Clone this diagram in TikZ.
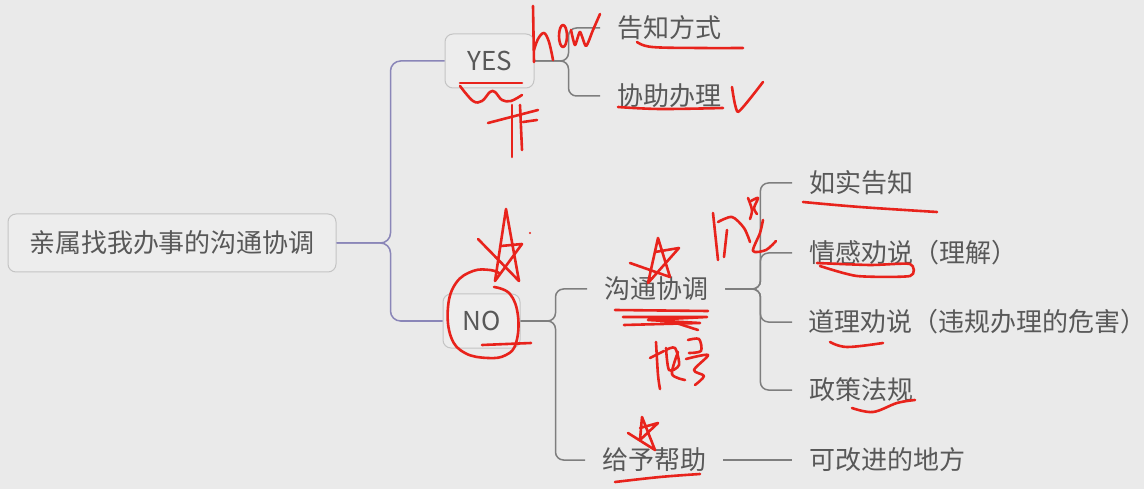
\documentclass[tikz,border=0pt]{standalone}
\usepackage{fontspec}
\setmainfont{Noto Sans CJK SC}
\definecolor{bg}{HTML}{EAEAEA}
\definecolor{boxfill}{HTML}{EDEDED}
\definecolor{boxline}{HTML}{C4C4C4}
\definecolor{txt}{HTML}{585858}
\definecolor{lav}{HTML}{8A86B8}
\definecolor{branch}{HTML}{7E7E7E}
\definecolor{pen}{HTML}{E8231C}
\tikzset{
  every node/.style={font=\fontsize{26}{30}\selectfont, text=txt},
  topicbox/.style={draw=boxline, line width=1pt, fill=boxfill, rounded corners=8pt, inner sep=0pt},
  leaf/.style={anchor=west, inner xsep=17pt, inner ysep=0pt},
  mainline/.style={draw=lav, line width=1.5pt, rounded corners=10pt},
  subline/.style={draw=branch, line width=1.5pt, rounded corners=8pt},
  ann/.style={draw=pen, line width=2.6pt, line cap=round, line join=round},
}
\begin{document}
\begin{tikzpicture}[x=1pt, y=-1pt]
\fill[bg] (0,0) rectangle (1144,489);
\useasboundingbox (0,0) rectangle (1144,489);

% --- topics
\node[topicbox, minimum width=328pt, minimum height=58pt] (root) at (172,243) {亲属找我办事的沟通协调};
\node[topicbox, minimum width=89pt, minimum height=54pt] (yes) at (489.5,61) {YES};
\node[topicbox, minimum width=77pt, minimum height=54pt] (no) at (481.5,321) {NO};

% --- leaves
\node[leaf] (tell) at (600,28) {告知方式};
\node[leaf] (assist) at (600,96) {协助办理};
\node[leaf] (comm) at (587,289) {沟通协调};
\node[leaf] (help) at (585,460) {给予帮助};
\node[leaf] (truth) at (792,183) {如实告知};
\node[leaf] (emot) at (792,253) {情感劝说（理解）};
\node[leaf, inner xsep=0pt] (reason) at (808,322) {道理劝说（违规办理的危害）};
\node[leaf] (policy) at (792,390) {政策法规};
\node[leaf] (improve) at (792,460) {可改进的地方};

% --- connectors
\draw[mainline] (root.east) -- ++(54,0) |- (yes.west);
\draw[mainline] (root.east) -- ++(54,0) |- (no.west);
\draw[subline] (yes.east) -- ++(34,0) |- (tell.west);
\draw[subline] (yes.east) -- ++(34,0) |- (assist.west);
\draw[subline] (no.east) -- ++(35,0) |- (comm.west);
\draw[subline] (no.east) -- ++(35,0) |- (help.west);
\draw[subline] (comm.east) -- ++(35,0) |- (truth.west);
\draw[subline] (comm.east) -- ++(35,0) |- (emot.west);
\draw[subline] (comm.east) -- ++(35,0) |- ([xshift=-16pt]reason.west);
\draw[subline] (comm.east) -- ++(35,0) |- (policy.west);
\draw[subline] (help.east) -- (improve.west);

% --- red handwriting
% "how"
\draw[ann] (533,6) -- (534,62);
\draw[ann] plot[smooth, tension=0.6] coordinates {(534,50) (538,39) (544,33) (549,42) (553,60)};
\draw[ann] (563,36) ellipse [x radius=4, y radius=11];
\draw[ann] plot[smooth, tension=0.4] coordinates {(571,30) (575,45) (580,32) (586,46) (593,30) (600,14)};
% underline 告知方式
\draw[ann] plot[smooth, tension=0.6] coordinates {(637,42) (652,47) (700,48) (743,48)};
% under YES
\draw[ann] (460,83) -- (522,83);
\draw[ann] plot[smooth, tension=0.6] coordinates {(460,86) (473,101) (482,101) (490,92) (495,92) (502,100) (511,101) (522,95)};
\draw[ann] (488,123) -- (538,110);
\draw[ann] (512,105) -- (512,157);
\draw[ann] (520,105) -- (522,150);
\draw[ann] (523,122) -- (537,120);
% check mark & underline 协助办理
\draw[ann] plot[smooth, tension=0.3] coordinates {(732,87) (738,112) (763,82)};
\draw[ann] plot[smooth, tension=0.6] coordinates {(618,107) (660,109) (723,108)};
% NO circle & stroke
\draw[ann] plot[smooth, tension=0.7] coordinates {(494,287) (510,294) (518,316) (516,343) (506,355) (488,358) (465,353) (451,337) (448,307) (456,283) (473,271) (490,270) (499,273)};
\draw[ann] (482,345) -- (531,343);
% star over NO
\draw[ann] (478,239) -- (519,281) -- (506,209) -- (495,281) -- (522,244) -- (501,246);
\fill[pen] (530,233) circle (1.2);
% star over 沟通协调
\draw[ann] (630,263) -- (670,277) -- (658,238) -- (648,283) -- (679,248) -- (655,252);
% underlines 沟通协调
\draw[ann] (615,310) -- (708,311);
\draw[ann] (623,317) -- (707,317) -- (648,320) -- (700,323) -- (624,325);
\draw[ann] (670,321) -- (698,330);
% scribble below
\draw[ann] (650,358) -- (664,351);
\draw[ann] plot[smooth, tension=0.5] coordinates {(656,342) (658,375) (660,389)};
\draw[ann] plot[smooth, tension=0.5] coordinates {(666,348) (669,370) (679,365) (675,348) (666,350)};
\draw[ann] plot[smooth, tension=0.5] coordinates {(678,352) (672,374) (685,380)};
\draw[ann] plot[smooth, tension=0.5] coordinates {(688,340) (699,339) (701,351) (689,353)};
\draw[ann] plot[smooth, tension=0.5] coordinates {(686,359) (708,355) (694,370) (704,376) (695,385)};
% scribble near comm branch
\draw[ann] (713,213) -- (718,260);
\draw[ann] plot[smooth, tension=0.5] coordinates {(718,222) (732,217) (744,228) (750,242)};
\draw[ann] (727,230) -- (724,257);
\draw[ann] plot[smooth, tension=0.5] coordinates {(748,198) (752,210) (750,219)};
\draw[ann] plot[smooth, tension=0.5] coordinates {(751,201) (758,198) (754,208) (757,214)};
\draw[ann] plot[smooth, tension=0.5] coordinates {(763,220) (760,233) (753,251) (766,250) (776,241)};
% underlines of sub branches
\draw[ann] plot[smooth, tension=0.6] coordinates {(803,202) (860,207) (937,212)};
\draw[ann] plot[smooth, tension=0.4] coordinates {(817,263) (870,265) (910,264) (910,276) (857,276) (820,266)};
\draw[ann] plot[smooth, tension=0.6] coordinates {(830,342) (847,347) (883,343)};
\draw[ann] plot[smooth, tension=0.6] coordinates {(852,408) (873,412) (897,403) (915,400)};
% star over 给予帮助
\draw[ann] (628,433) -- (655,450) -- (642,417) -- (640,440) -- (658,423) -- (640,428);
\draw[ann] plot[smooth, tension=0.6] coordinates {(615,482) (660,477) (700,474)};
\end{tikzpicture}
\end{document}
